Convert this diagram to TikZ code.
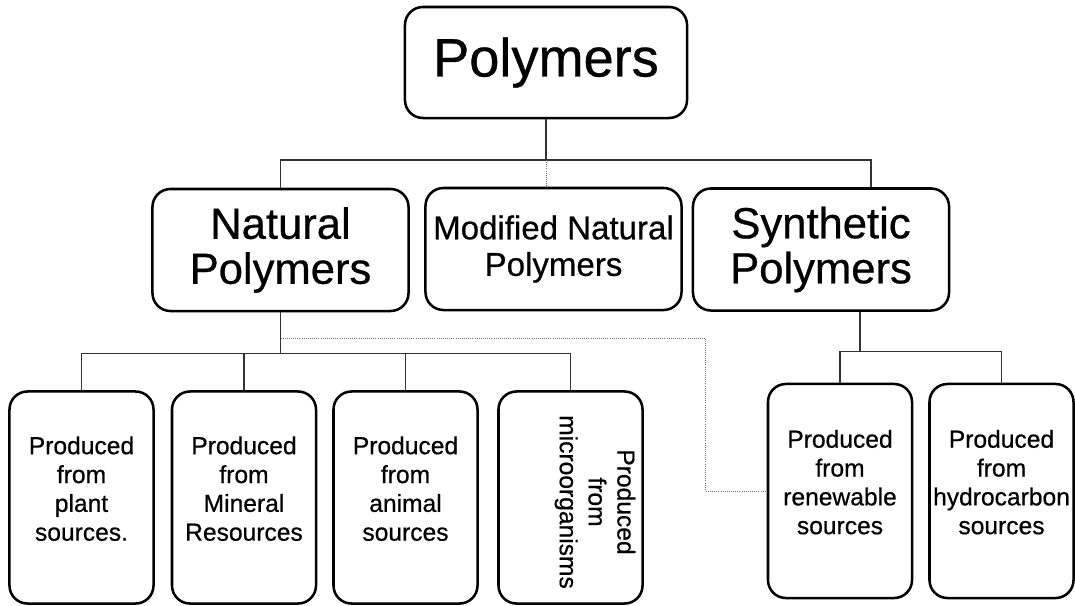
\documentclass[tikz,border=0pt]{standalone}
\usepackage{fontspec}
\setmainfont{Liberation Sans}[FakeBold=0.6]
\usetikzlibrary{calc}

\tikzset{
  box/.style={draw, line width=1.8pt, rounded corners=0.45cm, align=center, inner sep=1pt},
  topbox/.style={box, minimum width=7.05cm, minimum height=2.775cm, font=\fontsize{38.5}{44}\selectfont},
  bigbox/.style={box, minimum width=6.4cm, minimum height=3.05cm, font=\fontsize{31}{32}\selectfont},
  midbox/.style={box, minimum width=6.4cm, minimum height=3.05cm, font=\fontsize{23.5}{26}\selectfont},
  leafbox/.style={box, minimum width=3.6cm, minimum height=5.3cm, text depth=0.45cm, font=\fontsize{17.5}{20.5}\selectfont},
  leaftext/.style={align=center, inner sep=0pt, font=\fontsize{17.5}{20.5}\selectfont},
  link/.style={draw=black!80, line width=0.9pt},
  aside/.style={draw=black!55, line width=0.7pt, dash pattern=on 0.6pt off 0.9pt}
}

\begin{document}
\begin{tikzpicture}[x=0.025cm, y=-0.025cm]
\useasboundingbox (0,0) rectangle (1075,605);

%TOP
\node[topbox] (poly) at (546,62.5) {Polymers};

%Second row
\node[bigbox] (nat) at (280.5,250) {Natural\\Polymers};
\node[midbox] (mod) at (553.5,249) {Modified Natural\\Polymers};
\node[bigbox] (syn) at (821,249.5) {Synthetic\\Polymers};

%Natural sources
\node[leafbox] (plant) at (81.5,497.5) {Produced\\from\\plant\\sources.};
\node[leafbox] (mineral) at (244,497.5) {Produced\\from\\Mineral\\Resources};
\node[leafbox] (animal) at (405.5,497.5) {Produced\\from\\animal\\sources};
\node[leafbox] (micro) at (570.5,497.5) {};
\node[leaftext, rotate=-90] (microtext) at (595,502) {Produced\\from\\microorganisms};

%Synthetic sources
\node[leafbox, minimum height=5.35cm] (renew) at (840,491) {Produced\\from\\renewable\\sources};
\node[leafbox, minimum height=5.35cm] (hydro) at (1001.5,491) {Produced\\from\\hydrocarbon\\sources};

%Connectors
\coordinate (split) at (546,160);
\draw[link] (poly.south) -- (split);
\draw[link] (nat.north) |- (split) -| ($(syn.north)+(50,0)$);
\draw[aside] (split) -- (split |- mod.north);

\draw[link] (nat.south) -- ++(0,41) coordinate (natsplit);
\draw[link] (plant.north) |- (natsplit) -| (micro.north);
\foreach \n in {mineral,animal}
  \draw[link] (\n.north) -- (\n.north |- natsplit);

\draw[aside] ($(nat.south)+(0,26)$) -| ($(renew.west)+(-61,0)$) -- (renew.west);

\draw[link] ($(syn.south)+(39,0)$) -- ++(0,40) coordinate (synsplit);
\draw[link] (renew.north) |- (synsplit) -| (hydro.north);

\end{tikzpicture}
\end{document}
